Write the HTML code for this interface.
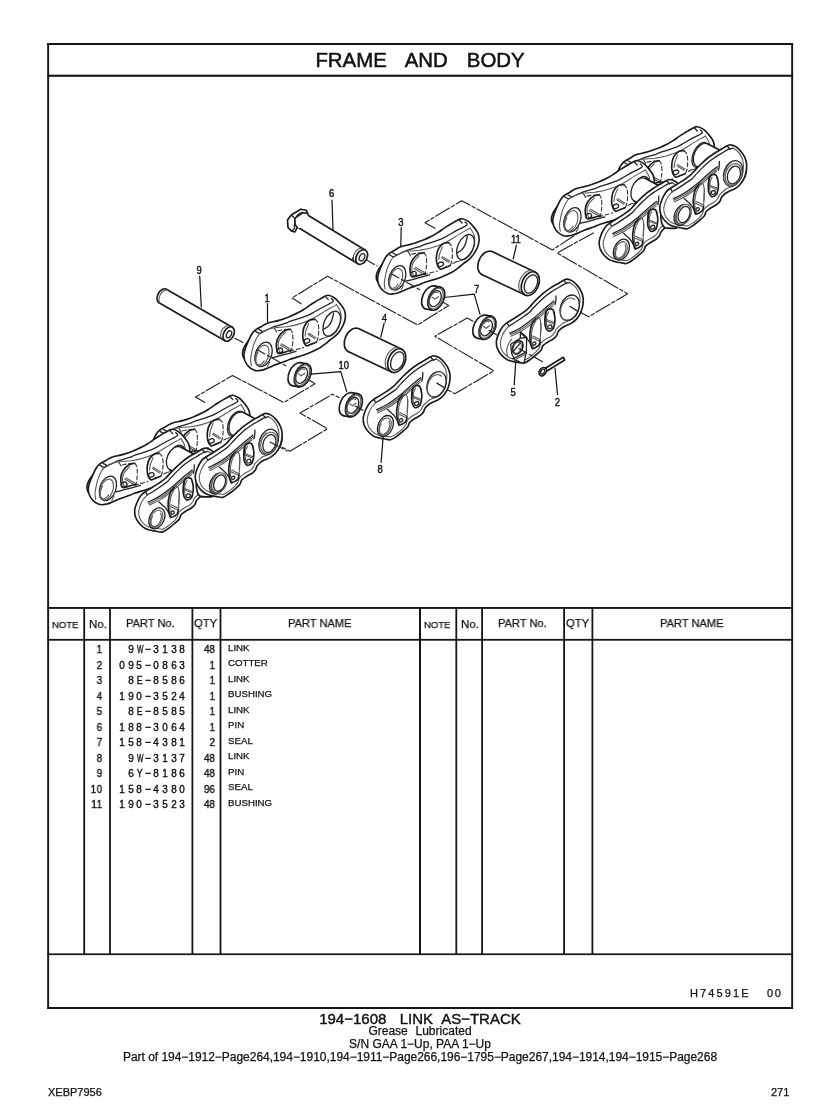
<!DOCTYPE html>
<html><head><meta charset="utf-8">
<style>
html,body{margin:0;padding:0;background:#fff;}
body{width:840px;height:1119px;position:relative;overflow:hidden;font-family:"Liberation Sans",sans-serif;color:#111;}
.t{will-change:transform;position:absolute;white-space:nowrap;line-height:1;-webkit-text-stroke:0.25px #111;}
.hd{transform-origin:0 50%;}
.no{font-size:11px;text-align:right;width:20px;left:83px;letter-spacing:.8px;transform:scaleX(.9);transform-origin:100% 50%;}
.pn{font-size:11px;left:110px;width:76.5px;text-align:right;}
.pn i{display:inline-block;width:8.57px;text-align:center;font-style:normal;}
.pn b{display:inline-block;font-weight:normal;transform:scaleX(.9);}
.q{font-size:11px;text-align:right;width:24px;left:191px;transform:scaleX(.9);transform-origin:100% 50%;}
.no,.pn,.q{-webkit-text-stroke:0.4px #111;}
.nm{font-size:9.7px;left:228.2px;}
.c{left:0;width:840px;text-align:center;}
</style></head><body>
<!-- DIAGRAM -->
<svg width="840" height="1119" viewBox="0 0 840 1119" style="position:absolute;left:0;top:0;will-change:transform" stroke-linecap="round" stroke-linejoin="round">
<defs><g id="linkA">
<path stroke="#1a1a1a" stroke-width="1.65" fill="#fff" d="M249.6 339.3C248.7 340.5 245.7 344.3 244.6 346.4C243.4 348.6 242.9 350.5 242.6 352.1C242.4 353.8 242.7 355.3 243 356.4C243.3 357.6 244.3 358.5 244.6 358.9"/>
<path stroke="#1a1a1a" stroke-width="1.65" fill="#fff" d="M254.9 330.4C256.5 329.1 258.9 328 261 326.8C263.1 325.6 264.5 324.3 267.4 323.2C270.4 322.2 275.3 321.5 278.9 320.4C282.4 319.4 285.8 318.1 288.9 316.9C292 315.6 294.8 314.5 297.4 313.1C300 311.8 302.2 310.4 304.6 308.9C307 307.3 309.3 305.5 311.7 304C314.1 302.5 316.7 300.8 318.9 299.6C321 298.3 323 297.1 324.6 296.4C326.2 295.7 326.9 295 328.6 295.3C330.2 295.5 332.7 296.7 334.6 298C336.4 299.3 338 301.1 339.6 303.1C341.2 305.1 343.3 307.7 344.3 310C345.2 312.3 345.5 314.8 345.4 317.1C345.2 319.5 344.5 322 343.6 324.3C342.7 326.5 341.3 328.8 340 330.7C338.7 332.6 337.4 334.2 335.7 335.7C334 337.3 331.7 338.7 330 340C328.3 341.3 327.6 342.1 325.7 343.6C323.8 345 321.5 346.9 318.6 348.6C315.6 350.2 311.4 352.1 307.9 353.6C304.3 355 300.1 356.2 297.1 357.1C294.2 358.1 291.9 358.6 290 359.3C288.1 359.9 288.3 360.2 286 361.1C283.7 362 279.1 363.5 276 364.6C272.9 365.8 269.6 367.3 267.4 368.2C265.3 369.1 264.7 369.4 263.1 369.9C261.6 370.3 259.7 370.7 258.1 370.7C256.6 370.7 255.5 370.7 253.9 370C252.2 369.3 250 368 248.5 366.4C247 364.9 245.7 362.6 244.9 360.7C244.2 358.8 243.8 357 243.9 355C243.9 353 244.5 351 245.3 348.6C246.1 346.2 247.4 343.1 248.5 340.7C249.6 338.3 250.6 336 251.7 334.3C252.8 332.6 253.4 331.6 254.9 330.4Z"/>
<path stroke="#222" stroke-width="1.3" fill="none" d="M259.6 333.6C260.9 332.9 264.9 330.8 267.4 329.6C269.9 328.5 271.5 327.5 274.6 326.4C277.7 325.4 283.4 324 286 323.2C288.6 322.4 286.4 322.7 290 321.4C293.6 320.1 302.5 317.7 307.9 315.4C313.2 313 318 309.8 322.1 307.5C326.3 305.2 331.3 303.3 332.9 301.8C334.4 300.3 331.5 299.1 331.3 298.6"/>
<path stroke="#222" stroke-width="1.3" fill="none" d="M255.6 331.4L259.6 333.6"/>
<path stroke="#222" stroke-width="1.3" fill="none" d="M258.9 329.4L262.8 331.6"/>
<path stroke="#222" stroke-width="1.3" fill="none" d="M325.1 296.1L328.3 299.6"/>
<path stroke="#585858" stroke-width="1.1" fill="none" d="M262.8 331.8C263.7 331.4 266.3 329.9 268.1 329.3C270 328.6 270.9 328.3 273.9 327.9C276.8 327.4 282.1 327.3 286 326.8C289.9 326.2 292.9 325.9 297.1 324.6C301.4 323.4 306.7 321.6 311.4 319.3C316.2 317 321.5 313.2 325.7 310.7C329.9 308.3 334.6 305.7 336.4 304.6"/>
<path stroke="#585858" stroke-width="1.1" fill="none" d="M336.4 304.6C337 305.7 339.2 308.6 340 310.7C340.8 312.8 341.1 315 341.1 317.1C341.1 319.3 340.8 321.4 340 323.6C339.2 325.7 337.7 328.2 336.4 330C335.1 331.8 333.7 333.1 332.1 334.3C330.6 335.5 328.6 336.5 327.1 337.1C325.7 337.8 324.2 338 323.6 338.2"/>
<path stroke="#585858" stroke-width="1.1" fill="none" d="M259.6 333.6C259 334.4 257.4 336.4 256.4 338.6C255.3 340.7 254 343.8 253.1 346.4C252.3 349 251.8 352 251.4 354.3C250.9 356.5 250.6 358.1 250.6 360C250.6 361.9 251.2 364.8 251.4 365.7"/>
<path stroke="#222" stroke-width="1.3" fill="none" d="M271.7 357.9C273.6 357.4 279.1 355.9 283.1 354.9C287.2 353.8 293.9 352 296 351.4"/>
<path stroke="#333" stroke-width="1.1" fill="none" stroke-dasharray="4 2.5" d="M290 351.4L303.6 347.5"/>
<path stroke="#333" stroke-width="1.1" fill="none" stroke-dasharray="4 2.5" d="M319.3 340L324.3 337.5"/>
<ellipse stroke="#222" stroke-width="1.3" fill="none" cx="263.5" cy="354.4" rx="8" ry="12.7" transform="rotate(20 263.5 354.4)"/>
<ellipse stroke="#585858" stroke-width="1.1" fill="none" cx="262.1" cy="355.6" rx="6.3" ry="10.9" transform="rotate(20 262.1 355.6)"/>
<path stroke="#585858" stroke-width="1.1" fill="none" d="M264.1 360.7C264 360.9 263.8 361.4 263.6 361.7C263.4 361.9 263.1 362.2 262.9 362.5C262.7 362.7 262.5 363 262.3 363.2C262 363.4 261.8 363.6 261.6 363.8C261.4 364 261.1 364.2 260.9 364.3C260.7 364.4 260.4 364.5 260.2 364.6C260 364.7 259.8 364.8 259.5 364.8C259.3 364.9 259.1 364.9 258.9 364.9C258.7 364.9 258.5 364.9 258.3 364.8C258.1 364.8 257.9 364.7 257.8 364.6C257.6 364.5 257.4 364.4 257.3 364.2C257.1 364.1 257 363.9 256.8 363.7C256.7 363.5 256.6 363.3 256.5 363.1C256.4 362.9 256.3 362.6 256.2 362.3C256.1 362.1 256.1 361.8 256 361.5C256 361.2 255.9 360.9 255.9 360.6C255.9 360.3 255.9 359.9 255.9 359.6C255.9 359.2 255.9 358.9 256 358.5C256 358.2 256.1 357.8 256.1 357.4C256.2 357.1 256.3 356.7 256.4 356.3C256.5 356 256.6 355.6 256.7 355.2C256.8 354.9 257 354.5 257.1 354.1C257.3 353.8 257.4 353.4 257.6 353.1C257.8 352.8 258.1 352.3 258.1 352.1"/>
<path stroke="#585858" stroke-width="1.1" fill="none" d="M269.6 362.1L267.4 366.4"/>
<path stroke="#1a1a1a" stroke-width="1.65" fill="none" d="M291.7 350C290.6 350.3 287.4 351.4 285.3 352C283.1 352.6 280.2 353.7 278.9 353.6C277.5 353.5 277.5 353.1 277.1 351.4C276.7 349.8 276.1 346.1 276.4 343.6C276.7 341.1 277.5 338.6 278.9 336.4C280.2 334.3 282.7 331.9 284.6 330.7C286.5 329.5 289.3 329.5 290.3 329.3"/>
<path stroke="#333" stroke-width="1.1" fill="none" stroke-dasharray="4 2.5" d="M290.3 329.3C290.6 329.9 292 330.8 292.4 332.9C292.9 334.9 293 338.6 292.9 341.4C292.7 344.3 291.9 348.6 291.7 350"/>
<path stroke="#585858" stroke-width="1.1" fill="none" d="M279.6 352.5C279.3 351.1 278 346.7 278.1 344.3C278.3 341.8 279.1 339.8 280.3 337.9C281.5 335.9 284.5 333.4 285.3 332.5"/>
<ellipse stroke="#222" stroke-width="1.3" fill="none" cx="279.7" cy="350.5" rx="3" ry="2.3" transform="rotate(-20 279.7 350.5)"/>
<path stroke="#585858" stroke-width="1.1" fill="none" d="M280.3 345L288.9 350"/>
<path stroke="#585858" stroke-width="1.1" fill="none" d="M281.7 343.9L290.3 348.9"/>
<path stroke="#333" stroke-width="1.1" fill="none" stroke-dasharray="4 2.5" d="M274.6 328.6L277.1 332.5"/>
<path stroke="#333" stroke-width="1.1" fill="none" stroke-dasharray="4 2.5" d="M278.1 330.7L285.3 329.4"/>
<ellipse stroke="#222" stroke-width="1.3" fill="none" cx="331.8" cy="323.7" rx="7.7" ry="13.3" transform="rotate(24 331.8 323.7)"/>
<path stroke="#222" stroke-width="1.3" fill="none" d="M323.6 329.3C324.3 328.8 326.5 327.9 327.9 326.6C329.2 325.3 330.5 323.7 331.4 321.4C332.4 319.1 333.3 314.3 333.7 312.9"/>
<path stroke="#1a1a1a" stroke-width="1.65" fill="none" d="M316.4 342.1C315.6 342.5 313.1 343.5 311.4 344.1C309.8 344.7 307.8 346.4 306.4 345.7C305.1 345 303.8 342.3 303.2 340C302.6 337.7 302.6 334.6 302.9 332.1C303.2 329.6 303.8 327 305 325C306.2 323 308.3 321 310 320C311.7 319 314.2 319.4 315 319.3"/>
<path stroke="#333" stroke-width="1.1" fill="none" stroke-dasharray="4 2.5" d="M315 319.3C315.5 319.9 317.2 321.1 317.9 322.9C318.5 324.6 318.7 327.5 318.7 330C318.7 332.5 318.4 335.8 318 337.9C317.6 339.9 316.7 341.4 316.4 342.1"/>
<path stroke="#585858" stroke-width="1.1" fill="none" d="M308.7 323.6C308.2 324.8 306.5 328.6 305.9 330.7C305.3 332.8 305.3 335.2 305.1 336.1"/>
<ellipse stroke="#222" stroke-width="1.3" fill="none" cx="306.9" cy="340.9" rx="2.9" ry="2.1" transform="rotate(-20 306.9 340.9)"/>
<path stroke="#585858" stroke-width="1.1" fill="none" d="M307.9 334.3L315 338.9"/>
<path stroke="#585858" stroke-width="1.1" fill="none" d="M308.9 333.2L316.1 337.9"/>
</g><g id="linkB">
<path stroke="#1a1a1a" stroke-width="1.65" fill="#fff" d="M373.8 399.4C375.5 398.1 377.7 397.1 380 395.6C382.3 394.2 385.2 392.3 387.5 390.8C389.8 389.2 391.9 387.9 393.8 386.2C395.6 384.6 396.9 382.8 398.8 380.9C400.6 378.9 402.9 376.5 405 374.5C407.1 372.5 409.2 370.7 411.2 369C413.3 367.3 415.4 365.9 417.5 364.5C419.6 363.1 421.7 362 423.8 360.8C425.8 359.5 428.3 358 430 357.1C431.7 356.3 432.5 355.7 434 355.8C435.5 355.8 437.3 356.5 439 357.5C440.7 358.5 442.5 360.2 444 362C445.5 363.8 447.1 366 448.1 368.2C449.1 370.5 449.8 372.8 450 375.2C450.2 377.7 450 380.2 449.5 382.8C449 385.2 448.1 388 447 390.2C445.9 392.5 444.3 394.6 442.8 396.2C441.2 397.9 439.5 399 437.8 400C436 401 433.9 401.7 432.2 402.5C430.6 403.3 429.3 404 428.1 405C426.9 406 425.8 407.1 425 408.2C424.2 409.4 424.2 410.8 423.5 412C422.8 413.2 422.1 414.1 420.6 415.2C419.1 416.4 416.2 417.6 414.4 418.8C412.6 419.9 410.9 420.9 409.8 422.2C408.6 423.6 408.9 425.2 407.8 426.8C406.6 428.2 404.9 429.7 403.1 431.2C401.3 432.8 399 434.8 396.9 436.2C394.8 437.7 392.6 439.3 390.6 439.8C388.6 440.2 386.9 439.3 385 439C383.1 438.7 381.2 438.5 379.4 438C377.5 437.5 375.6 437.3 373.8 436.2C371.9 435.2 369.7 433.3 368.1 431.5C366.5 429.7 365.1 427.5 364.2 425.2C363.4 423 363 420.2 363.2 417.8C363.5 415.2 364.5 412.6 365.5 410.2C366.5 407.9 367.9 405.3 369.2 403.5C370.6 401.7 372 400.7 373.8 399.4Z"/>
<path stroke="#222" stroke-width="1.3" fill="none" d="M375.8 402.6C376.8 402 379.7 400.3 382 398.9C384.3 397.4 387.2 395.5 389.5 393.9C391.8 392.3 393.9 391 395.8 389.4C397.6 387.7 398.9 385.8 400.8 383.9C402.6 381.9 404.9 379.6 407 377.6C409.1 375.6 411.2 373.7 413.2 372C415.3 370.3 417.4 369 419.5 367.6C421.6 366.3 423.7 365.1 425.8 363.9C427.8 362.6 430.2 361 432 360.2C433.8 359.5 435.8 359.3 436.5 359.1"/>
<path stroke="#222" stroke-width="1.3" fill="none" d="M373.8 399.4L375.8 402.6"/>
<path stroke="#222" stroke-width="1.3" fill="none" d="M430.5 357L433.5 360.2"/>
<path stroke="#585858" stroke-width="1.1" fill="none" d="M375.8 402.6C375.2 403.3 373.4 404.9 372.2 406.5C371.1 408.1 369.8 410.4 369 412.5C368.2 414.6 367.4 416.9 367.2 419C367.1 421.1 367.4 423.4 368 425.2C368.6 427.1 369.7 428.8 371 430.2C372.3 431.7 374.1 433.1 375.8 434C377.4 434.9 379 435.1 380.6 435.5C382.3 435.9 384.8 436.1 385.6 436.2"/>
<path stroke="#585858" stroke-width="1.1" fill="none" d="M436.5 359.1C437.3 359.7 439.8 361 441.2 362.5C442.7 364 444.1 366.2 445 368.2C445.9 370.3 446.5 372.7 446.8 375C447 377.3 446.7 379.9 446.2 382.2C445.8 384.6 445 387 444 389C443 391 441.6 392.6 440.2 394C438.9 395.4 437.3 396.3 435.6 397.2C433.9 398.2 430.9 399.1 430 399.5"/>
<path stroke="#585858" stroke-width="1.1" fill="none" d="M385.6 436.2C386.6 436.3 389.4 437.2 391.2 436.8C393.1 436.3 395 434.8 396.9 433.5C398.8 432.2 401 430.2 402.5 428.8C404 427.2 405.2 426 406 424.5C406.8 423 406.5 421.4 407.5 420C408.5 418.6 410.1 417.5 411.9 416.2C413.6 415 416.6 413.9 418.1 412.8C419.7 411.6 420.4 410.7 421.2 409.5C422.1 408.3 422.2 406.8 423.1 405.6C424 404.5 425.4 403.5 426.5 402.5C427.6 401.5 429.4 400 430 399.5"/>
<ellipse stroke="#222" stroke-width="1.3" fill="none" cx="436.5" cy="384.4" rx="9.2" ry="13.2" transform="rotate(20 436.5 384.4)"/>
<path stroke="#585858" stroke-width="1.1" fill="none" d="M435.5 396.3C435.3 396.3 434.6 396.6 434.1 396.6C433.7 396.7 433.3 396.7 432.8 396.7C432.4 396.7 432 396.6 431.6 396.5C431.2 396.4 430.8 396.2 430.5 395.9C430.1 395.7 429.8 395.4 429.5 395.1C429.2 394.8 428.9 394.4 428.6 394C428.4 393.6 428.2 393.2 428 392.7C427.8 392.2 427.7 391.7 427.5 391.2C427.4 390.6 427.4 390.1 427.3 389.5C427.3 388.9 427.3 388.3 427.3 387.7C427.4 387.1 427.5 386.5 427.6 385.9C427.7 385.2 427.8 384.6 428 384C428.2 383.4 428.4 382.8 428.7 382.2C428.9 381.6 429.2 381 429.5 380.5C429.8 379.9 430.2 379.4 430.5 378.9C430.9 378.4 431.3 378 431.6 377.5C432 377.1 432.5 376.7 432.9 376.4C433.3 376 433.8 375.7 434.2 375.5C434.6 375.2 435.1 375 435.6 374.9C436 374.7 436.5 374.6 436.9 374.6C437.3 374.5 437.8 374.5 438.2 374.6C438.6 374.6 439 374.7 439.4 374.9C439.8 375 440.2 375.2 440.5 375.5C440.9 375.7 441.3 376.2 441.5 376.3"/>
<path stroke="#222" stroke-width="1.3" fill="none" d="M436.9 383.1L444 387.5"/>
<path stroke="#222" stroke-width="1.3" fill="none" d="M376.7 409.8C378.5 408.9 383.6 406.8 387.5 404.3C391.4 401.9 395.8 398.5 400 395.2C404.2 391.8 409.1 387.2 412.5 384.3C415.9 381.4 419.3 378.8 420.7 377.7"/>
<path stroke="#585858" stroke-width="1.1" fill="none" d="M377.2 411.3C379 410.4 384.2 408.3 388.2 405.8C392.1 403.4 396.5 400 400.7 396.7C404.8 393.3 409.7 388.8 413.2 385.8C416.6 382.9 420 380.3 421.3 379.2"/>
<path stroke="#585858" stroke-width="1.1" fill="none" d="M377.8 412.8C379.7 411.9 384.9 409.8 388.8 407.3C392.8 404.9 397.2 401.5 401.3 398.2C405.5 394.8 410.7 390 413.8 387.3C416.9 384.7 419 383 420 382.2"/>
<path stroke="#222" stroke-width="1.3" fill="none" d="M422.8 372.5C422.8 373.2 422.8 375.2 422.7 376.7C422.5 378.1 422 380.5 421.8 381.2"/>
<ellipse stroke="#222" stroke-width="1.3" fill="none" cx="385.4" cy="426" rx="7.3" ry="11" transform="rotate(24 385.4 426)"/>
<ellipse stroke="#585858" stroke-width="1.1" fill="none" cx="385" cy="426.5" rx="5.7" ry="9" transform="rotate(24 385 426.5)"/>
<path stroke="#585858" stroke-width="1.1" fill="none" d="M389 421C389.1 421.2 389.3 421.6 389.5 421.9C389.6 422.2 389.7 422.6 389.7 423C389.8 423.4 389.8 423.8 389.8 424.2C389.8 424.6 389.8 425 389.7 425.5C389.7 425.9 389.6 426.4 389.5 426.8C389.4 427.3 389.2 427.8 389 428.2C388.9 428.7 388.7 429.1 388.4 429.5C388.2 430 388 430.4 387.7 430.8C387.4 431.1 387.2 431.5 386.9 431.9C386.6 432.2 386.3 432.5 386 432.8C385.6 433.1 385.3 433.3 385 433.5C384.7 433.7 384.3 433.9 384 434C383.7 434.1 383.4 434.2 383.1 434.2C382.8 434.3 382.5 434.2 382.2 434.2C381.9 434.1 381.6 434.1 381.4 433.9C381.1 433.8 380.9 433.6 380.7 433.4C380.5 433.2 380.3 432.9 380.1 432.6C380 432.4 379.9 432 379.8 431.7C379.7 431.3 379.6 431 379.5 430.6C379.5 430.2 379.5 429.7 379.5 429.3C379.5 428.9 379.6 428.4 379.7 428C379.8 427.5 379.9 427.1 380 426.6C380.1 426.2 380.3 425.7 380.5 425.3C380.7 424.8 381.1 424.2 381.2 424"/>
<path stroke="#222" stroke-width="1.3" fill="none" d="M387.5 409.6C388.6 410.6 392.4 413.8 394.2 415.8C395.9 417.8 397.1 420.1 397.9 421.7C398.8 423.2 399.1 424.6 399.3 425.2"/>
<path stroke="#1a1a1a" stroke-width="1.65" fill="none" d="M403 394.7C402.4 395.4 400.3 397.2 399.3 399.2C398.4 401.2 397.6 404.2 397.2 406.7C396.7 409.2 396.5 411.7 396.7 414.2C396.8 416.7 397.5 419.8 397.9 421.7C398.4 423.5 398.4 424.9 399.3 425.2C400.2 425.5 402.2 424.2 403.3 423.5C404.4 422.8 405.4 422.4 406 421.2C406.6 420.1 406.8 417.4 407 416.7"/>
<path stroke="#585858" stroke-width="1.1" fill="none" d="M403 394.7C403.6 394.7 405.5 393.5 406.3 394.8C407.1 396.1 407.7 399.7 407.8 402.5C408 405.3 407.5 409.3 407.3 411.7C407.2 414 407.1 415.8 407 416.7"/>
<path stroke="#585858" stroke-width="1.1" fill="none" d="M407.7 400L407.2 411.7"/>
<ellipse stroke="#222" stroke-width="1.3" fill="none" cx="401" cy="420.2" rx="1.8" ry="1.5" transform="rotate(-25 401 420.2)"/>
<path stroke="#585858" stroke-width="1.1" fill="none" d="M398.8 414.2L405.8 417.5"/>
<path stroke="#585858" stroke-width="1.1" fill="none" d="M399.6 412.5L406.3 415.8"/>
<path stroke="#585858" stroke-width="1.1" fill="none" d="M400 423.8C399.8 422.8 398.8 420.5 398.5 418.3C398.2 416.2 398.1 413.3 398.3 410.8C398.5 408.3 399 405.6 399.7 403.3C400.4 401.1 402 398.5 402.5 397.5"/>
<path stroke="#1a1a1a" stroke-width="1.65" fill="none" d="M420.8 389.2C420.6 388.7 420.3 386.9 419.6 386.3C418.9 385.7 417.7 385.3 416.7 385.5C415.6 385.7 414.1 386.3 413.3 387.5C412.6 388.7 412.4 390.6 412.1 392.5C411.8 394.4 411.6 397.2 411.7 399.2C411.7 401.1 411.9 402.8 412.5 404.2C413.1 405.6 414.2 407.2 415.2 407.7C416.1 408.1 417.5 407.3 418.3 406.8C419.2 406.4 419.8 405.3 420.1 405"/>
<path stroke="#1a1a1a" stroke-width="1.65" fill="none" d="M420.8 389.2C421 390.1 421.7 393.1 421.8 395C421.8 396.9 421.6 399.2 421.3 400.8C421.1 402.5 420.3 404.3 420.1 405"/>
<path stroke="#1a1a1a" stroke-width="1.65" fill="none" d="M412.7 388.5C412.6 389.2 412.2 391.4 412.2 392.9C412.1 394.4 412.2 396.7 412.2 397.5"/>
<ellipse stroke="#222" stroke-width="1.3" fill="none" cx="416.7" cy="403.5" rx="2.2" ry="1.8" transform="rotate(-25 416.7 403.5)"/>
<path stroke="#585858" stroke-width="1.1" fill="none" d="M412.9 397.5L420.4 400.4"/>
<path stroke="#585858" stroke-width="1.1" fill="none" d="M413.3 396.2L420.8 399.2"/>
<path stroke="#585858" stroke-width="1.1" fill="none" d="M414.2 406C414 405 413.3 402.2 413.2 400C413.1 397.8 413.1 394.9 413.5 392.9C413.9 391 415.2 389.1 415.5 388.3"/>
</g><g id="seal">
<ellipse stroke="#1a1a1a" stroke-width="1.65" fill="#fff" cx="296.5" cy="374.2" rx="7.5" ry="12.3" transform="rotate(25 296.5 374.2)"/>
<path stroke="none" fill="#fff" d="M300.6 362.6L306.8 363.8L298.6 386.9L292.4 385.7Z"/>
<path stroke="#1a1a1a" stroke-width="1.65" fill="none" d="M300.6 362.6L306.8 363.8"/>
<path stroke="#1a1a1a" stroke-width="1.65" fill="none" d="M292.4 385.7L298.6 386.9"/>
<ellipse stroke="#1a1a1a" stroke-width="1.65" fill="#fff" cx="302.7" cy="375.3" rx="7.5" ry="12.3" transform="rotate(25 302.7 375.3)"/>
<ellipse stroke="#585858" stroke-width="1.1" fill="none" cx="302.2" cy="375.3" rx="6.5" ry="11" transform="rotate(25 302.2 375.3)"/>
<ellipse stroke="#222" stroke-width="1.3" fill="none" cx="301.5" cy="375.3" rx="5.5" ry="8.5" transform="rotate(25 301.5 375.3)"/>
<path stroke="#585858" stroke-width="1.1" fill="none" d="M298.3 382.5C298.2 382.5 297.9 382.4 297.7 382.4C297.5 382.3 297.3 382.2 297.2 382.1C297 381.9 296.8 381.8 296.7 381.6C296.6 381.5 296.4 381.3 296.3 381.1C296.2 380.9 296.1 380.6 296 380.4C296 380.2 295.9 379.9 295.9 379.6C295.8 379.4 295.8 379.1 295.8 378.8C295.8 378.5 295.8 378.2 295.8 377.8C295.8 377.5 295.9 377.2 295.9 376.9C296 376.6 296.1 376.2 296.2 375.9C296.3 375.6 296.4 375.2 296.5 374.9C296.6 374.6 296.7 374.2 296.9 373.9C297 373.6 297.2 373.3 297.4 373C297.6 372.7 297.7 372.4 297.9 372.1C298.1 371.8 298.3 371.5 298.6 371.3C298.8 371 299 370.8 299.2 370.5C299.4 370.3 299.7 370.1 299.9 369.9C300.1 369.7 300.4 369.6 300.6 369.4C300.8 369.3 301.1 369.2 301.3 369.1C301.6 369 301.8 368.9 302 368.9C302.2 368.8 302.5 368.8 302.7 368.8C302.9 368.8 303.1 368.8 303.3 368.9C303.5 368.9 303.7 369 303.9 369.1C304.1 369.2 304.3 369.4 304.4 369.4"/>
<path stroke="#585858" stroke-width="1.1" fill="none" d="M298.7 374L301.3 375.7"/>
<path stroke="#585858" stroke-width="1.1" fill="none" d="M301.3 375.7L305 373.3"/>
</g><g id="bush">
<ellipse stroke="#1a1a1a" stroke-width="1.65" fill="#fff" cx="353.3" cy="340" rx="8.3" ry="12.5" transform="rotate(24 353.3 340)"/>
<path stroke="none" fill="#fff" d="M358.5 328.6L401.9 349.3L391.5 372L348.1 351.4Z"/>
<path stroke="#1a1a1a" stroke-width="1.65" fill="none" d="M358.5 328.6L401.9 349.3"/>
<path stroke="#1a1a1a" stroke-width="1.65" fill="none" d="M348.1 351.4L391.5 372"/>
<ellipse stroke="#1a1a1a" stroke-width="1.65" fill="#fff" cx="396.7" cy="360.7" rx="8.3" ry="12.5" transform="rotate(24 396.7 360.7)"/>
<ellipse stroke="#222" stroke-width="1.3" fill="none" cx="397.3" cy="361" rx="6" ry="9.7" transform="rotate(24 397.3 361)"/>
<path stroke="#585858" stroke-width="1.1" fill="none" d="M387.5 369.7C387.3 369.5 387 369.2 386.8 368.9C386.6 368.6 386.4 368.3 386.3 368C386.1 367.7 386 367.3 385.8 367C385.7 366.6 385.6 366.2 385.5 365.9C385.4 365.5 385.3 365.1 385.3 364.7C385.2 364.3 385.2 363.8 385.2 363.4C385.2 363 385.2 362.6 385.2 362.1C385.2 361.7 385.3 361.2 385.3 360.8C385.4 360.3 385.5 359.9 385.6 359.4C385.7 359 385.8 358.5 386 358.1C386.1 357.6 386.3 357.2 386.5 356.7C386.6 356.3 386.8 355.8 387 355.4C387.3 355 387.5 354.6 387.7 354.2C388 353.8 388.2 353.4 388.5 353C388.8 352.6 389 352.2 389.3 351.9C389.6 351.5 389.9 351.2 390.2 350.9C390.5 350.6 390.9 350.3 391.2 350C391.5 349.7 391.9 349.5 392.2 349.3C392.5 349 392.9 348.8 393.2 348.6C393.6 348.4 393.9 348.3 394.3 348.1C394.6 348 395 347.9 395.3 347.8C395.7 347.7 396 347.7 396.3 347.6C396.7 347.6 397 347.6 397.3 347.6C397.7 347.6 398.1 347.7 398.3 347.7"/>
</g></defs>
<g>
<path stroke="#222" stroke-width="1.15" fill="none" stroke-dasharray="16 2.2 3.5 2.2" d="M306 378L315 383.8L283.8 402.5L232.5 375.5L195.5 397L205 402.5"/>
<path stroke="#222" stroke-width="1.15" fill="none" stroke-dasharray="16 2.2 3.5 2.2" d="M266.2 439.5L290 451.2L327.5 428.8L300 413L332.5 394.2L339 397.5"/>
<path stroke="#222" stroke-width="1.15" fill="none" stroke-dasharray="16 2.2 3.5 2.2" d="M440 300.5L448.8 305.5L417.5 325L327.5 276.2L292 298L301.2 303.8"/>
<path stroke="#222" stroke-width="1.15" fill="none" stroke-dasharray="16 2.2 3.5 2.2" d="M473 321.3L467.1 318.1L434.8 336.2L493.8 370.9L454.8 393.7L436.7 383.8"/>
<path stroke="#222" stroke-width="1.15" fill="none" stroke-dasharray="16 2.2 3.5 2.2" d="M435 228.3L425 222.7L461.7 200.7L552.4 250L582.9 230"/>
<path stroke="#222" stroke-width="1.15" fill="none" stroke-dasharray="16 2.2 3.5 2.2" d="M593.3 232.9L557.1 252.9L627.6 293.8L588.6 316.7L570.5 307.1"/>
</g>
<g id="chain"><use href="#linkA" transform="translate(-95.5 100)"/>
<use href="#linkA" transform="translate(-155.6 134)"/>
<ellipse stroke="#222" stroke-width="1.3" fill="#fff" cx="175.5" cy="458.5" rx="8.3" ry="12.6" transform="rotate(24 175.5 458.5)"/>
<path stroke="none" fill="#fff" d="M181 447.2L226.5 471.7L215.5 494.3L170 469.8Z"/>
<path stroke="#1a1a1a" stroke-width="1.65" fill="none" d="M181 447.2L226.5 471.7"/>
<path stroke="#1a1a1a" stroke-width="1.65" fill="none" d="M170 469.8L215.5 494.3"/>
<ellipse stroke="#222" stroke-width="1.3" fill="#fff" cx="221" cy="483" rx="8.3" ry="12.6" transform="rotate(24 221 483)"/>
<ellipse stroke="#222" stroke-width="1.3" fill="#fff" cx="238" cy="424" rx="8.3" ry="12.6" transform="rotate(24 238 424)"/>
<path stroke="none" fill="#fff" d="M243.4 412.6L278.4 430.6L267.6 453.4L232.6 435.4Z"/>
<path stroke="#1a1a1a" stroke-width="1.65" fill="none" d="M243.4 412.6L278.4 430.6"/>
<path stroke="#1a1a1a" stroke-width="1.65" fill="none" d="M232.6 435.4L267.6 453.4"/>
<ellipse stroke="#222" stroke-width="1.3" fill="#fff" cx="273" cy="442" rx="8.3" ry="12.6" transform="rotate(24 273 442)"/>
<use href="#linkB" transform="translate(-228.5 92.3)"/>
<path stroke="#1a1a1a" stroke-width="1.65" fill="#fff" d="M208.1 456.1C207.2 456.7 204.1 457.4 202.5 459.6C200.8 461.8 199.4 465.6 198.3 469.2C197.3 472.8 196.6 477.5 196.3 481.1C196.1 484.7 196.4 488.6 197.1 491.1C197.8 493.6 198.1 495.4 200.6 496.4C203.1 497.3 210 496.8 211.8 496.9"/>
<use href="#linkB" transform="translate(-167.9 57.6)"/>
<ellipse stroke="none" fill="#fff" cx="268.9" cy="442.6" rx="8.2" ry="12" transform="rotate(20 268.9 442.6)"/>
<ellipse stroke="#585858" stroke-width="1.1" fill="none" cx="269.1" cy="443.1" rx="8" ry="11.2" transform="rotate(20 269.1 443.1)"/>
<ellipse stroke="#222" stroke-width="1.3" fill="none" cx="269.4" cy="443.6" rx="6.2" ry="9.2" transform="rotate(20 269.4 443.6)"/>
<ellipse stroke="none" fill="#fff" cx="219.3" cy="482.6" rx="6.8" ry="10.2" transform="rotate(22 219.3 482.6)"/>
<ellipse stroke="#585858" stroke-width="1.1" fill="none" cx="219.3" cy="482.9" rx="7" ry="10.5" transform="rotate(22 219.3 482.9)"/>
<ellipse stroke="#222" stroke-width="1.3" fill="none" cx="219.6" cy="483.1" rx="5.5" ry="8.5" transform="rotate(22 219.6 483.1)"/></g>
<use href="#chain" transform="translate(464.5 -268.6)"/>
<use href="#linkA"/>
<use href="#linkA" transform="translate(133.7 -76.6)"/>
<use href="#linkB"/>
<g transform="translate(133.2 -76.6)">
<path stroke="#1a1a1a" stroke-width="1.65" fill="#fff" d="M373.8 399.4C375.5 398.1 377.7 397.1 380 395.6C382.3 394.2 385.2 392.3 387.5 390.8C389.8 389.2 391.9 387.9 393.8 386.2C395.6 384.6 396.9 382.8 398.8 380.9C400.6 378.9 402.9 376.5 405 374.5C407.1 372.5 409.2 370.7 411.2 369C413.3 367.3 415.4 365.9 417.5 364.5C419.6 363.1 421.7 362 423.8 360.8C425.8 359.5 428.3 358 430 357.1C431.7 356.3 432.5 355.7 434 355.8C435.5 355.8 437.3 356.5 439 357.5C440.7 358.5 442.5 360.2 444 362C445.5 363.8 447.1 366 448.1 368.2C449.1 370.5 449.8 372.8 450 375.2C450.2 377.7 450 380.2 449.5 382.8C449 385.2 448.1 388 447 390.2C445.9 392.5 444.3 394.6 442.8 396.2C441.2 397.9 439.5 399 437.8 400C436 401 433.9 401.7 432.2 402.5C430.6 403.3 429.3 404 428.1 405C426.9 406 425.8 407.1 425 408.2C424.2 409.4 424.2 410.8 423.5 412C422.8 413.2 422.1 414.1 420.6 415.2C419.1 416.4 416.2 417.6 414.4 418.8C412.6 419.9 410.9 420.9 409.8 422.2C408.6 423.6 408.9 425.2 407.8 426.8C406.6 428.2 404.9 429.7 403.1 431.2C401.3 432.8 399 434.8 396.9 436.2C394.8 437.7 392.6 439.3 390.6 439.8C388.6 440.2 386.9 439.3 385 439C383.1 438.7 381.2 438.5 379.4 438C377.5 437.5 375.6 437.3 373.8 436.2C371.9 435.2 369.7 433.3 368.1 431.5C366.5 429.7 365.1 427.5 364.2 425.2C363.4 423 363 420.2 363.2 417.8C363.5 415.2 364.5 412.6 365.5 410.2C366.5 407.9 367.9 405.3 369.2 403.5C370.6 401.7 372 400.7 373.8 399.4Z"/>
<path stroke="#222" stroke-width="1.3" fill="none" d="M375.8 402.6C376.8 402 379.7 400.3 382 398.9C384.3 397.4 387.2 395.5 389.5 393.9C391.8 392.3 393.9 391 395.8 389.4C397.6 387.7 398.9 385.8 400.8 383.9C402.6 381.9 404.9 379.6 407 377.6C409.1 375.6 411.2 373.7 413.2 372C415.3 370.3 417.4 369 419.5 367.6C421.6 366.3 423.7 365.1 425.8 363.9C427.8 362.6 430.2 361 432 360.2C433.8 359.5 435.8 359.3 436.5 359.1"/>
<path stroke="#222" stroke-width="1.3" fill="none" d="M373.8 399.4L375.8 402.6"/>
<path stroke="#222" stroke-width="1.3" fill="none" d="M430.5 357L433.5 360.2"/>
<path stroke="#585858" stroke-width="1.1" fill="none" d="M375.8 402.6C375.2 403.3 373.4 404.9 372.2 406.5C371.1 408.1 369.8 410.4 369 412.5C368.2 414.6 367.4 416.9 367.2 419C367.1 421.1 367.4 423.4 368 425.2C368.6 427.1 369.7 428.8 371 430.2C372.3 431.7 374.1 433.1 375.8 434C377.4 434.9 379 435.1 380.6 435.5C382.3 435.9 384.8 436.1 385.6 436.2"/>
<path stroke="#585858" stroke-width="1.1" fill="none" d="M436.5 359.1C437.3 359.7 439.8 361 441.2 362.5C442.7 364 444.1 366.2 445 368.2C445.9 370.3 446.5 372.7 446.8 375C447 377.3 446.7 379.9 446.2 382.2C445.8 384.6 445 387 444 389C443 391 441.6 392.6 440.2 394C438.9 395.4 437.3 396.3 435.6 397.2C433.9 398.2 430.9 399.1 430 399.5"/>
<path stroke="#585858" stroke-width="1.1" fill="none" d="M385.6 436.2C386.6 436.3 389.4 437.2 391.2 436.8C393.1 436.3 395 434.8 396.9 433.5C398.8 432.2 401 430.2 402.5 428.8C404 427.2 405.2 426 406 424.5C406.8 423 406.5 421.4 407.5 420C408.5 418.6 410.1 417.5 411.9 416.2C413.6 415 416.6 413.9 418.1 412.8C419.7 411.6 420.4 410.7 421.2 409.5C422.1 408.3 422.2 406.8 423.1 405.6C424 404.5 425.4 403.5 426.5 402.5C427.6 401.5 429.4 400 430 399.5"/>
<ellipse stroke="#222" stroke-width="1.3" fill="none" cx="436.5" cy="384.4" rx="9.2" ry="13.2" transform="rotate(20 436.5 384.4)"/>
<path stroke="#585858" stroke-width="1.1" fill="none" d="M435.5 396.3C435.3 396.3 434.6 396.6 434.1 396.6C433.7 396.7 433.3 396.7 432.8 396.7C432.4 396.7 432 396.6 431.6 396.5C431.2 396.4 430.8 396.2 430.5 395.9C430.1 395.7 429.8 395.4 429.5 395.1C429.2 394.8 428.9 394.4 428.6 394C428.4 393.6 428.2 393.2 428 392.7C427.8 392.2 427.7 391.7 427.5 391.2C427.4 390.6 427.4 390.1 427.3 389.5C427.3 388.9 427.3 388.3 427.3 387.7C427.4 387.1 427.5 386.5 427.6 385.9C427.7 385.2 427.8 384.6 428 384C428.2 383.4 428.4 382.8 428.7 382.2C428.9 381.6 429.2 381 429.5 380.5C429.8 379.9 430.2 379.4 430.5 378.9C430.9 378.4 431.3 378 431.6 377.5C432 377.1 432.5 376.7 432.9 376.4C433.3 376 433.8 375.7 434.2 375.5C434.6 375.2 435.1 375 435.6 374.9C436 374.7 436.5 374.6 436.9 374.6C437.3 374.5 437.8 374.5 438.2 374.6C438.6 374.6 439 374.7 439.4 374.9C439.8 375 440.2 375.2 440.5 375.5C440.9 375.7 441.3 376.2 441.5 376.3"/>
<path stroke="#222" stroke-width="1.3" fill="none" d="M436.9 383.1L444 387.5"/>
<path stroke="#222" stroke-width="1.3" fill="none" d="M376.7 409.8C378.5 408.9 383.6 406.8 387.5 404.3C391.4 401.9 395.8 398.5 400 395.2C404.2 391.8 409.1 387.2 412.5 384.3C415.9 381.4 419.3 378.8 420.7 377.7"/>
<path stroke="#585858" stroke-width="1.1" fill="none" d="M377.2 411.3C379 410.4 384.2 408.3 388.2 405.8C392.1 403.4 396.5 400 400.7 396.7C404.8 393.3 409.7 388.8 413.2 385.8C416.6 382.9 420 380.3 421.3 379.2"/>
<path stroke="#585858" stroke-width="1.1" fill="none" d="M377.8 412.8C379.7 411.9 384.9 409.8 388.8 407.3C392.8 404.9 397.2 401.5 401.3 398.2C405.5 394.8 410.7 390 413.8 387.3C416.9 384.7 419 383 420 382.2"/>
<path stroke="#222" stroke-width="1.3" fill="none" d="M422.8 372.5C422.8 373.2 422.8 375.2 422.7 376.7C422.5 378.1 422 380.5 421.8 381.2"/>
<path stroke="#222" stroke-width="1.3" fill="#fff" d="M377.5 420.9L387.1 414.8L387.2 408.7L393.5 413.8L393.1 428.7L390.6 439.9L386.8 438.7L381.8 436.3L378.5 430.4Z"/>
<path stroke="#222" stroke-width="1.3" fill="none" d="M387.1 414.8L393.3 414.1"/>
<ellipse stroke="#1a1a1a" stroke-width="1.65" fill="none" cx="384.5" cy="423.9" rx="4.8" ry="7" transform="rotate(25 384.5 423.9)"/>
<ellipse stroke="#585858" stroke-width="1.1" fill="none" cx="384" cy="424.4" rx="3.7" ry="5.7" transform="rotate(25 384 424.4)"/>
<path stroke="#222" stroke-width="1.3" fill="none" d="M379.7 428.7L387.2 419.5"/>
<path stroke="#222" stroke-width="1.3" fill="none" d="M379.7 435.4L392.8 428.7"/>
<path stroke="#585858" stroke-width="1.1" fill="none" d="M381.1 436.8L393 430.3"/>
<path stroke="#585858" stroke-width="1.1" fill="none" d="M374.3 433.3C374.2 432.2 373.3 428.8 373.5 426.6C373.7 424.4 374.7 421.7 375.6 419.9C376.4 418.1 378 416.5 378.5 415.8"/>
<path stroke="#222" stroke-width="1.3" fill="none" d="M387.5 409.6C388.6 410.6 392.4 413.8 394.2 415.8C395.9 417.8 397.1 420.1 397.9 421.7C398.8 423.2 399.1 424.6 399.3 425.2"/>
<path stroke="#1a1a1a" stroke-width="1.65" fill="none" d="M403 394.7C402.4 395.4 400.3 397.2 399.3 399.2C398.4 401.2 397.6 404.2 397.2 406.7C396.7 409.2 396.5 411.7 396.7 414.2C396.8 416.7 397.5 419.8 397.9 421.7C398.4 423.5 398.4 424.9 399.3 425.2C400.2 425.5 402.2 424.2 403.3 423.5C404.4 422.8 405.4 422.4 406 421.2C406.6 420.1 406.8 417.4 407 416.7"/>
<path stroke="#585858" stroke-width="1.1" fill="none" d="M403 394.7C403.6 394.7 405.5 393.5 406.3 394.8C407.1 396.1 407.7 399.7 407.8 402.5C408 405.3 407.5 409.3 407.3 411.7C407.2 414 407.1 415.8 407 416.7"/>
<path stroke="#585858" stroke-width="1.1" fill="none" d="M407.7 400L407.2 411.7"/>
<ellipse stroke="#222" stroke-width="1.3" fill="none" cx="401" cy="420.2" rx="1.8" ry="1.5" transform="rotate(-25 401 420.2)"/>
<path stroke="#585858" stroke-width="1.1" fill="none" d="M398.8 414.2L405.8 417.5"/>
<path stroke="#585858" stroke-width="1.1" fill="none" d="M399.6 412.5L406.3 415.8"/>
<path stroke="#585858" stroke-width="1.1" fill="none" d="M400 423.8C399.8 422.8 398.8 420.5 398.5 418.3C398.2 416.2 398.1 413.3 398.3 410.8C398.5 408.3 399 405.6 399.7 403.3C400.4 401.1 402 398.5 402.5 397.5"/>
<path stroke="#1a1a1a" stroke-width="1.65" fill="none" d="M420.8 389.2C420.6 388.7 420.3 386.9 419.6 386.3C418.9 385.7 417.7 385.3 416.7 385.5C415.6 385.7 414.1 386.3 413.3 387.5C412.6 388.7 412.4 390.6 412.1 392.5C411.8 394.4 411.6 397.2 411.7 399.2C411.7 401.1 411.9 402.8 412.5 404.2C413.1 405.6 414.2 407.2 415.2 407.7C416.1 408.1 417.5 407.3 418.3 406.8C419.2 406.4 419.8 405.3 420.1 405"/>
<path stroke="#1a1a1a" stroke-width="1.65" fill="none" d="M420.8 389.2C421 390.1 421.7 393.1 421.8 395C421.8 396.9 421.6 399.2 421.3 400.8C421.1 402.5 420.3 404.3 420.1 405"/>
<path stroke="#1a1a1a" stroke-width="1.65" fill="none" d="M412.7 388.5C412.6 389.2 412.2 391.4 412.2 392.9C412.1 394.4 412.2 396.7 412.2 397.5"/>
<ellipse stroke="#222" stroke-width="1.3" fill="none" cx="416.7" cy="403.5" rx="2.2" ry="1.8" transform="rotate(-25 416.7 403.5)"/>
<path stroke="#585858" stroke-width="1.1" fill="none" d="M412.9 397.5L420.4 400.4"/>
<path stroke="#585858" stroke-width="1.1" fill="none" d="M413.3 396.2L420.8 399.2"/>
<path stroke="#585858" stroke-width="1.1" fill="none" d="M414.2 406C414 405 413.3 402.2 413.2 400C413.1 397.8 413.1 394.9 413.5 392.9C413.9 391 415.2 389.1 415.5 388.3"/>
</g>
<g>
<ellipse stroke="#1a1a1a" stroke-width="1.65" fill="#fff" cx="162.7" cy="296" rx="5" ry="7.7" transform="rotate(28 162.7 296)"/>
<path stroke="none" fill="#fff" d="M166.4 289.3L232.4 327.3L225 340.7L159 302.7Z"/>
<path stroke="#1a1a1a" stroke-width="1.65" fill="none" d="M166.4 289.3L232.4 327.3"/>
<path stroke="#1a1a1a" stroke-width="1.65" fill="none" d="M159 302.7L225 340.7"/>
<ellipse stroke="#1a1a1a" stroke-width="1.65" fill="#fff" cx="228.7" cy="334" rx="5" ry="7.7" transform="rotate(28 228.7 334)"/>
<ellipse stroke="#222" stroke-width="1.3" fill="none" cx="229" cy="334.3" rx="2.3" ry="3.7" transform="rotate(28 229 334.3)"/>
<path stroke="#585858" stroke-width="1.1" fill="none" d="M221.7 338.6C221.7 338.5 221.5 338.3 221.4 338.1C221.3 337.9 221.2 337.7 221.1 337.5C221 337.3 220.9 337.1 220.9 336.9C220.8 336.7 220.8 336.5 220.7 336.2C220.7 336 220.7 335.7 220.6 335.5C220.6 335.2 220.6 335 220.6 334.7C220.7 334.5 220.7 334.2 220.7 333.9C220.8 333.7 220.8 333.4 220.9 333.1C220.9 332.8 221 332.6 221.1 332.3C221.2 332 221.3 331.7 221.4 331.5C221.5 331.2 221.6 330.9 221.7 330.7C221.9 330.4 222 330.2 222.1 329.9C222.3 329.7 222.4 329.4 222.6 329.2C222.8 328.9 223 328.7 223.1 328.5C223.3 328.3 223.5 328.1 223.7 327.8C223.9 327.6 224.1 327.5 224.3 327.3C224.5 327.1 224.7 326.9 224.9 326.8C225.1 326.6 225.3 326.5 225.5 326.3C225.7 326.2 226 326.1 226.2 326C226.4 325.9 226.6 325.8 226.8 325.7C227 325.7 227.3 325.6 227.5 325.6C227.7 325.5 227.9 325.5 228.1 325.5C228.3 325.5 228.5 325.5 228.7 325.5C228.9 325.5 229.2 325.6 229.3 325.6"/>
<path stroke="#585858" stroke-width="1.1" fill="none" d="M160 303.1C160 303 159.8 302.8 159.7 302.6C159.6 302.4 159.5 302.2 159.4 302C159.3 301.8 159.3 301.6 159.2 301.4C159.1 301.2 159.1 301 159.1 300.7C159 300.5 159 300.2 159 300C159 299.7 159 299.5 159 299.2C159 299 159 298.7 159.1 298.4C159.1 298.2 159.1 297.9 159.2 297.6C159.3 297.3 159.3 297.1 159.4 296.8C159.5 296.5 159.6 296.2 159.7 296C159.8 295.7 159.9 295.4 160.1 295.2C160.2 294.9 160.3 294.7 160.5 294.4C160.6 294.2 160.8 293.9 160.9 293.7C161.1 293.4 161.3 293.2 161.5 293C161.6 292.8 161.8 292.6 162 292.3C162.2 292.1 162.4 292 162.6 291.8C162.8 291.6 163 291.4 163.2 291.3C163.4 291.1 163.7 291 163.9 290.8C164.1 290.7 164.3 290.6 164.5 290.5C164.7 290.4 164.9 290.3 165.2 290.2C165.4 290.2 165.6 290.1 165.8 290.1C166 290 166.2 290 166.4 290C166.6 290 166.8 290 167 290C167.2 290 167.5 290.1 167.6 290.1"/>
</g>
<g>
<path stroke="#1a1a1a" stroke-width="1.65" fill="#fff" d="M287.5 220L291.3 215L300.7 209.2L306.3 210.3L307.8 213.7L307 220L296.7 228.3L295 232L292 231.3L288 227.7Z"/>
<path stroke="#222" stroke-width="1.3" fill="none" d="M291.3 215.3L295 218.3L294.3 228.7L292 231"/>
<path stroke="#222" stroke-width="1.3" fill="none" d="M295 218.3L303.3 212.7L307.7 213.7"/>
<ellipse stroke="#1a1a1a" stroke-width="1.65" fill="#fff" cx="300.8" cy="220" rx="5.3" ry="7.8" transform="rotate(28 300.8 220)"/>
<path stroke="none" fill="#fff" d="M304.7 213.2L365.5 250.2L357.8 263.8L297 226.8Z"/>
<path stroke="#1a1a1a" stroke-width="1.65" fill="none" d="M304.7 213.2L365.5 250.2"/>
<path stroke="#1a1a1a" stroke-width="1.65" fill="none" d="M297 226.8L357.8 263.8"/>
<ellipse stroke="#1a1a1a" stroke-width="1.65" fill="#fff" cx="361.7" cy="257" rx="5.3" ry="7.8" transform="rotate(28 361.7 257)"/>
<path stroke="none" fill="#fff" d="M295 218.7L303.3 213L307.3 214L308.3 225L298.3 228.3Z"/>
<path stroke="#222" stroke-width="1.3" fill="none" d="M295 218.3L303.3 212.7L307.7 213.7"/>
<path stroke="#222" stroke-width="1.3" fill="none" d="M295 218.3L294.5 226.7"/>
<ellipse stroke="#222" stroke-width="1.3" fill="none" cx="362" cy="257.3" rx="2.5" ry="3.8" transform="rotate(28 362 257.3)"/>
<path stroke="#585858" stroke-width="1.1" fill="none" d="M354.6 261.7C354.5 261.6 354.3 261.4 354.2 261.2C354.1 261 354 260.8 353.9 260.6C353.8 260.4 353.7 260.2 353.6 259.9C353.6 259.7 353.5 259.5 353.5 259.2C353.4 259 353.4 258.7 353.4 258.5C353.4 258.2 353.4 257.9 353.4 257.7C353.4 257.4 353.4 257.1 353.4 256.9C353.5 256.6 353.5 256.3 353.6 256C353.6 255.7 353.7 255.5 353.8 255.2C353.9 254.9 354 254.6 354.1 254.3C354.2 254.1 354.3 253.8 354.4 253.5C354.6 253.3 354.7 253 354.9 252.7C355 252.5 355.2 252.2 355.3 252C355.5 251.8 355.7 251.5 355.9 251.3C356.1 251.1 356.2 250.9 356.4 250.6C356.6 250.4 356.9 250.2 357.1 250.1C357.3 249.9 357.5 249.7 357.7 249.6C357.9 249.4 358.1 249.3 358.4 249.1C358.6 249 358.8 248.9 359 248.8C359.3 248.7 359.5 248.6 359.7 248.5C360 248.5 360.2 248.4 360.4 248.4C360.6 248.3 360.9 248.3 361.1 248.3C361.3 248.3 361.5 248.3 361.7 248.3C361.9 248.4 362.2 248.4 362.3 248.5"/>
<path stroke="#222" stroke-width="1.3" fill="none" d="M352.7 258L353.3 260.8"/>
</g>
<g>
<path stroke="#1a1a1a" stroke-width="1.65" fill="#fff" d="M545.3 368.3L563.3 357.3L564.7 360L547 371Z"/>
<ellipse stroke="#1a1a1a" stroke-width="1.65" fill="#fff" cx="542.7" cy="371.7" rx="3.3" ry="4.5" transform="rotate(35 542.7 371.7)"/>
<ellipse stroke="#222" stroke-width="1.3" fill="none" cx="542.7" cy="371.7" rx="1.7" ry="2.7" transform="rotate(35 542.7 371.7)"/>
</g>
<use href="#bush"/><use href="#bush" transform="translate(133.6 -77)"/>
<use href="#seal"/><use href="#seal" transform="translate(51.2 30)"/>
<use href="#seal" transform="translate(133.6 -76.7)"/><use href="#seal" transform="translate(184.8 -47.5)"/>
<g>
<path stroke="#222" stroke-width="1.15" fill="none" stroke-dasharray="9 3 3 3" d="M235 338.3L243 342.5"/>
<path stroke="#222" stroke-width="1.15" fill="none" stroke-dasharray="9 3 3 3" d="M270 442L287 451"/>
<path stroke="#222" stroke-width="1.15" fill="none" stroke-dasharray="9 3 3 3" d="M257 349.5L288 367"/>
<path stroke="#222" stroke-width="1.15" fill="none" stroke-dasharray="9 3 3 3" d="M366.5 260L377 266"/>
<path stroke="#222" stroke-width="1.15" fill="none" stroke-dasharray="9 3 3 3" d="M391 273.5L422 291"/>
<path stroke="#222" stroke-width="1.15" fill="none" stroke-dasharray="9 3 3 3" d="M355 406L364 411"/>
<path stroke="#222" stroke-width="1.15" fill="none" stroke-dasharray="9 3 3 3" d="M489 330.5L497 335"/>
<path stroke="#222" stroke-width="1.15" fill="none" stroke-dasharray="9 3 3 3" d="M519 348.5L543 362"/>
</g>
<g>
<path stroke="#111" stroke-width="1.2" fill="none" d="M332 200L333 230"/>
<path stroke="#111" stroke-width="1.2" fill="none" d="M401.2 227.5L400.8 246"/>
<path stroke="#111" stroke-width="1.2" fill="none" d="M516.4 245.2L513.2 259"/>
<path stroke="#111" stroke-width="1.2" fill="none" d="M199.7 276L201.3 307"/>
<path stroke="#111" stroke-width="1.2" fill="none" d="M267.5 303.5L267.5 322"/>
<path stroke="#111" stroke-width="1.2" fill="none" d="M384.2 323L380.8 337"/>
<path stroke="#111" stroke-width="1.2" fill="none" d="M444.2 297.5L474.2 294.2L480 314.2"/>
<path stroke="#111" stroke-width="1.2" fill="none" d="M310.8 374.2L340.8 371.7L346.7 391.7"/>
<path stroke="#111" stroke-width="1.2" fill="none" d="M515.8 360.8L514.2 385"/>
<path stroke="#111" stroke-width="1.2" fill="none" d="M555 368.3L557.5 394.5"/>
<path stroke="#111" stroke-width="1.2" fill="none" d="M383.1 437.3L381.1 462.3"/>
<text transform="translate(329 196.7) scale(.9 1)" font-family="Liberation Sans, sans-serif" font-size="10.5" fill="#111" stroke="#111" stroke-width="0.4">6</text>
<text transform="translate(398.2 225.8) scale(.9 1)" font-family="Liberation Sans, sans-serif" font-size="10.5" fill="#111" stroke="#111" stroke-width="0.4">3</text>
<text transform="translate(511 243.3) scale(.9 1)" font-family="Liberation Sans, sans-serif" font-size="10.5" fill="#111" stroke="#111" stroke-width="0.4">11</text>
<text transform="translate(196.5 273.5) scale(.9 1)" font-family="Liberation Sans, sans-serif" font-size="10.5" fill="#111" stroke="#111" stroke-width="0.4">9</text>
<text transform="translate(264.5 301.8) scale(.9 1)" font-family="Liberation Sans, sans-serif" font-size="10.5" fill="#111" stroke="#111" stroke-width="0.4">1</text>
<text transform="translate(381.8 322) scale(.9 1)" font-family="Liberation Sans, sans-serif" font-size="10.5" fill="#111" stroke="#111" stroke-width="0.4">4</text>
<text transform="translate(474 292.6) scale(.9 1)" font-family="Liberation Sans, sans-serif" font-size="10.5" fill="#111" stroke="#111" stroke-width="0.4">7</text>
<text transform="translate(338.5 368.6) scale(.9 1)" font-family="Liberation Sans, sans-serif" font-size="10.5" fill="#111" stroke="#111" stroke-width="0.4">10</text>
<text transform="translate(510.6 395.8) scale(.9 1)" font-family="Liberation Sans, sans-serif" font-size="10.5" fill="#111" stroke="#111" stroke-width="0.4">5</text>
<text transform="translate(554.8 405.9) scale(.9 1)" font-family="Liberation Sans, sans-serif" font-size="10.5" fill="#111" stroke="#111" stroke-width="0.4">2</text>
<text transform="translate(377.4 473.1) scale(.9 1)" font-family="Liberation Sans, sans-serif" font-size="10.5" fill="#111" stroke="#111" stroke-width="0.4">8</text>
</g>
<g shape-rendering="geometricPrecision"><rect x="47.2" y="43" width="745.9" height="2" fill="#151515"/><rect x="47.2" y="1007" width="745.9" height="2" fill="#151515"/><rect x="47.2" y="43" width="1.9" height="966" fill="#151515"/><rect x="791.2" y="43" width="1.9" height="966" fill="#151515"/><rect x="47.2" y="74.7" width="745.9" height="2.1" fill="#151515"/><rect x="47.2" y="607" width="745.9" height="1.9" fill="#151515"/><rect x="47.2" y="638.9" width="745.9" height="1.8" fill="#151515"/><rect x="47.2" y="953.4" width="745.9" height="1.7" fill="#151515"/><rect x="83.3" y="607" width="1.8" height="348" fill="#151515"/><rect x="109.1" y="607" width="1.8" height="348" fill="#151515"/><rect x="191.5" y="607" width="1.8" height="348" fill="#151515"/><rect x="219.6" y="607" width="1.8" height="348" fill="#151515"/><rect x="419" y="607" width="2" height="348" fill="#151515"/><rect x="455.4" y="607" width="1.8" height="348" fill="#151515"/><rect x="481.2" y="607" width="1.8" height="348" fill="#151515"/><rect x="563.2" y="607" width="1.8" height="348" fill="#151515"/><rect x="591.5" y="607" width="1.8" height="348" fill="#151515"/></g>
</svg>
<!-- /DIAGRAM -->
<!-- title -->
<div class="t c" id="title" style="-webkit-text-stroke:0.5px #111;top:49.8px;font-size:20.4px;word-spacing:13.4px;">FRAME AND BODY</div>
<!-- table header -->
<div class="t hd" style="left:52.2px;top:619.5px;font-size:9.8px;transform:scaleX(.97)">NOTE</div>
<div class="t hd" style="left:88.8px;top:618.3px;font-size:11.7px;transform:scaleX(.98)">No.</div>
<div class="t hd" style="left:126.2px;top:618.1px;font-size:11.8px;transform:scaleX(.94)">PART No.</div>
<div class="t hd" style="left:194.0px;top:618.1px;font-size:11.8px;transform:scaleX(.95)">QTY</div>
<div class="t hd" style="left:288.0px;top:618.1px;font-size:11.8px;transform:scaleX(.94)">PART NAME</div>
<div class="t hd" style="left:424.4px;top:619.5px;font-size:9.8px;transform:scaleX(.97)">NOTE</div>
<div class="t hd" style="left:461.0px;top:618.3px;font-size:11.7px;transform:scaleX(.98)">No.</div>
<div class="t hd" style="left:498.4px;top:618.1px;font-size:11.8px;transform:scaleX(.94)">PART No.</div>
<div class="t hd" style="left:566.2px;top:618.1px;font-size:11.8px;transform:scaleX(.95)">QTY</div>
<div class="t hd" style="left:660.2px;top:618.1px;font-size:11.8px;transform:scaleX(.94)">PART NAME</div>
<!-- rows -->
<div class="t no" style="top:644.0px">1</div><div class="t pn" style="top:644.0px"><i><b>9</b></i><i><b style="transform:scaleX(.62)">W</b></i><i><b>−</b></i><i><b>3</b></i><i><b>1</b></i><i><b>3</b></i><i><b>8</b></i></div><div class="t q" style="top:644.0px">48</div><div class="t nm" style="top:642.7px">LINK</div>
<div class="t no" style="top:659.5px">2</div><div class="t pn" style="top:659.5px"><i><b>0</b></i><i><b>9</b></i><i><b>5</b></i><i><b>−</b></i><i><b>0</b></i><i><b>8</b></i><i><b>6</b></i><i><b>3</b></i></div><div class="t q" style="top:659.5px">1</div><div class="t nm" style="top:658.2px">COTTER</div>
<div class="t no" style="top:675.0px">3</div><div class="t pn" style="top:675.0px"><i><b>8</b></i><i><b style="transform:scaleX(.8)">E</b></i><i><b>−</b></i><i><b>8</b></i><i><b>5</b></i><i><b>8</b></i><i><b>6</b></i></div><div class="t q" style="top:675.0px">1</div><div class="t nm" style="top:673.7px">LINK</div>
<div class="t no" style="top:690.5px">4</div><div class="t pn" style="top:690.5px"><i><b>1</b></i><i><b>9</b></i><i><b>0</b></i><i><b>−</b></i><i><b>3</b></i><i><b>5</b></i><i><b>2</b></i><i><b>4</b></i></div><div class="t q" style="top:690.5px">1</div><div class="t nm" style="top:689.2px">BUSHING</div>
<div class="t no" style="top:706.0px">5</div><div class="t pn" style="top:706.0px"><i><b>8</b></i><i><b style="transform:scaleX(.8)">E</b></i><i><b>−</b></i><i><b>8</b></i><i><b>5</b></i><i><b>8</b></i><i><b>5</b></i></div><div class="t q" style="top:706.0px">1</div><div class="t nm" style="top:704.7px">LINK</div>
<div class="t no" style="top:721.5px">6</div><div class="t pn" style="top:721.5px"><i><b>1</b></i><i><b>8</b></i><i><b>8</b></i><i><b>−</b></i><i><b>3</b></i><i><b>0</b></i><i><b>6</b></i><i><b>4</b></i></div><div class="t q" style="top:721.5px">1</div><div class="t nm" style="top:720.2px">PIN</div>
<div class="t no" style="top:737.0px">7</div><div class="t pn" style="top:737.0px"><i><b>1</b></i><i><b>5</b></i><i><b>8</b></i><i><b>−</b></i><i><b>4</b></i><i><b>3</b></i><i><b>8</b></i><i><b>1</b></i></div><div class="t q" style="top:737.0px">2</div><div class="t nm" style="top:735.7px">SEAL</div>
<div class="t no" style="top:752.5px">8</div><div class="t pn" style="top:752.5px"><i><b>9</b></i><i><b style="transform:scaleX(.62)">W</b></i><i><b>−</b></i><i><b>3</b></i><i><b>1</b></i><i><b>3</b></i><i><b>7</b></i></div><div class="t q" style="top:752.5px">48</div><div class="t nm" style="top:751.2px">LINK</div>
<div class="t no" style="top:768.0px">9</div><div class="t pn" style="top:768.0px"><i><b>6</b></i><i><b style="transform:scaleX(.8)">Y</b></i><i><b>−</b></i><i><b>8</b></i><i><b>1</b></i><i><b>8</b></i><i><b>6</b></i></div><div class="t q" style="top:768.0px">48</div><div class="t nm" style="top:766.7px">PIN</div>
<div class="t no" style="top:783.5px">10</div><div class="t pn" style="top:783.5px"><i><b>1</b></i><i><b>5</b></i><i><b>8</b></i><i><b>−</b></i><i><b>4</b></i><i><b>3</b></i><i><b>8</b></i><i><b>0</b></i></div><div class="t q" style="top:783.5px">96</div><div class="t nm" style="top:782.2px">SEAL</div>
<div class="t no" style="top:799.0px">11</div><div class="t pn" style="top:799.0px"><i><b>1</b></i><i><b>9</b></i><i><b>0</b></i><i><b>−</b></i><i><b>3</b></i><i><b>5</b></i><i><b>2</b></i><i><b>3</b></i></div><div class="t q" style="top:799.0px">48</div><div class="t nm" style="top:797.7px">BUSHING</div>
<!-- bottom -->
<div class="t" style="left:690px;top:988px;font-size:11px;letter-spacing:2.1px;">H74591E</div>
<div class="t" style="left:767px;top:988px;font-size:11px;letter-spacing:1.6px;">00</div>
<div class="t c" style="top:1010.8px;font-size:15px;-webkit-text-stroke:0.4px #111;">194−1608<span style="margin-left:13.3px">LINK</span><span style="margin-left:8.2px">AS−TRACK</span></div>
<div class="t c" style="top:1025.3px;font-size:12px;word-spacing:4.4px;">Grease Lubricated</div>
<div class="t c" style="top:1038px;font-size:12px;">S/N GAA 1−Up, PAA 1−Up</div>
<div class="t c" style="top:1050.6px;font-size:12px;letter-spacing:-0.032px;">Part of 194−1912−Page264,194−1910,194−1911−Page266,196−1795−Page267,194−1914,194−1915−Page268</div>
<div class="t" style="left:48px;top:1087px;font-size:11px;">XEBP7956</div>
<div class="t" style="left:771px;top:1087px;font-size:11px;">271</div>
</body></html>
